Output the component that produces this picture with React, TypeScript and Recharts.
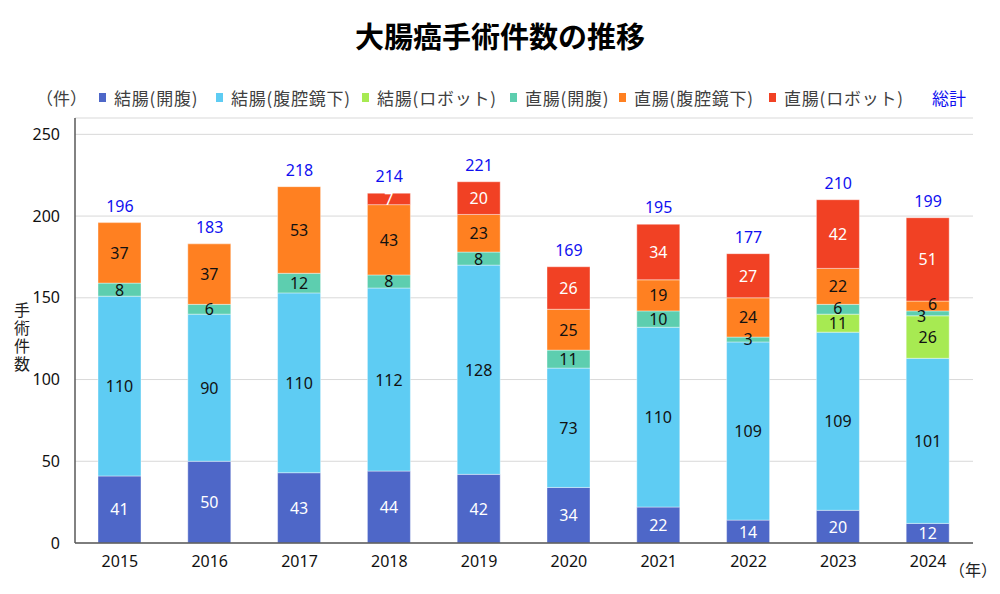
import { ComposedChart, Bar, Line, XAxis, YAxis, CartesianGrid, LabelList } from 'recharts';

const years = ['2015', '2016', '2017', '2018', '2019', '2020', '2021', '2022', '2023', '2024'];
const colonOpen = [41, 50, 43, 44, 42, 34, 22, 14, 20, 12];
const colonLap = [110, 90, 110, 112, 128, 73, 110, 109, 109, 101];
const colonRobot = [0, 0, 0, 0, 0, 0, 0, 0, 11, 26];
const rectumOpen = [8, 6, 12, 8, 8, 11, 10, 3, 6, 3];
const rectumLap = [37, 37, 53, 43, 23, 25, 19, 24, 22, 6];
const rectumRobot = [0, 0, 0, 7, 20, 26, 34, 27, 42, 51];
const yTicks = [0, 50, 100, 150, 200, 250];

const series = [
  { key: 'colonOpen', name: '結腸(開腹)', color: '#4E67C8', text: '#ffffff' },
  { key: 'colonLap', name: '結腸(腹腔鏡下)', color: '#5ECCF3', text: '#111111' },
  { key: 'colonRobot', name: '結腸(ロボット)', color: '#A7EA52', text: '#111111' },
  { key: 'rectumOpen', name: '直腸(開腹)', color: '#5DCEAF', text: '#111111' },
  { key: 'rectumLap', name: '直腸(腹腔鏡下)', color: '#FF8021', text: '#111111' },
  { key: 'rectumRobot', name: '直腸(ロボット)', color: '#F14124', text: '#ffffff' },
];

const data = years.map((year, i) => ({
  year,
  colonOpen: colonOpen[i],
  colonLap: colonLap[i],
  colonRobot: colonRobot[i],
  rectumOpen: rectumOpen[i],
  rectumLap: rectumLap[i],
  rectumRobot: rectumRobot[i],
  total:
    colonOpen[i] + colonLap[i] + colonRobot[i] + rectumOpen[i] + rectumLap[i] + rectumRobot[i],
}));

const numFont = "'Noto Sans', 'Noto Sans CJK JP', sans-serif";
const jpFont = "'Noto Sans CJK JP', sans-serif";

// legend marker left edges, like the original layout
const legendX = [99, 216, 362, 510, 619, 769];

// small nudges where thin segments would overlap
const nudge: Record<string, [number, number]> = {
  'rectumOpen-9': [-6, 3],
  'rectumLap-9': [5, -2],
  'rectumOpen-8': [0, -1],
  'colonRobot-8': [0, 3],
};

export default function App() {
  const segmentLabel = (key: string, color: string) => (props: any) => {
    const { x, y, width, height, value, index } = props;
    if (!value) return null;
    const [dx, dy] = nudge[`${key}-${index}`] ?? [0, 0];
    return (
      <text
        x={x + width / 2 + dx}
        y={y + height / 2 + dy}
        textAnchor="middle"
        dominantBaseline="central"
        fill={color}
        fontSize={16}
        fontFamily={numFont}
      >
        {value}
      </text>
    );
  };

  const totalLabel = (props: any) => {
    const { x, y, value } = props;
    return (
      <text
        x={x}
        y={y - 11}
        textAnchor="middle"
        fill="#1010F0"
        fontSize={16}
        fontFamily={numFont}
      >
        {value}
      </text>
    );
  };

  return (
    <div
      style={{
        position: 'absolute',
        left: 0,
        top: 0,
        width: 1000,
        height: 594,
        background: '#fff',
        fontFamily: jpFont,
      }}
    >
      <div
        style={{
          position: 'absolute',
          top: 14,
          width: 1000,
          textAlign: 'center',
          fontSize: 29,
          fontWeight: 700,
          color: '#000',
        }}
      >
        大腸癌手術件数の推移
      </div>

      {/* Legend */}
      <div style={{ position: 'absolute', top: 85, left: 0, fontSize: 17, color: '#404040' }}>
        <span style={{ position: 'absolute', left: 36, whiteSpace: 'nowrap' }}>（件）</span>
        {series.map((s, i) => (
          <span
            key={s.key}
            style={{
              position: 'absolute',
              left: legendX[i],
              display: 'flex',
              alignItems: 'center',
              whiteSpace: 'nowrap',
              letterSpacing: 0.8,
            }}
          >
            <span
              style={{ width: 7, height: 9, background: s.color, display: 'inline-block', marginRight: 8 }}
            />
            {s.name}
          </span>
        ))}
        <span style={{ position: 'absolute', left: 932, whiteSpace: 'nowrap', color: '#1010F0' }}>
          総計
        </span>
      </div>

      <div
        style={{
          position: 'absolute',
          left: 12,
          top: 302,
          writingMode: 'vertical-rl',
          fontSize: 16,
          letterSpacing: 2,
          lineHeight: '20px',
          color: '#222',
        }}
      >
        手術件数
      </div>
      <div style={{ position: 'absolute', left: 949, top: 557, fontSize: 16, color: '#222' }}>
        （年）
      </div>

      <ComposedChart
        width={1000}
        height={594}
        data={data}
        margin={{ top: 118, right: 27, bottom: 21, left: 0 }}
        barSize={43}
        style={{ position: 'absolute', left: 0, top: 0 }}
      >
        <CartesianGrid vertical={false} stroke="#d9d9d9" />
        <XAxis
          dataKey="year"
          height={30}
          tickLine={false}
          axisLine={{ stroke: '#595959', strokeWidth: 1.5 }}
          tick={{ fill: '#111', fontSize: 16, fontFamily: numFont }}
          tickMargin={7}
        />
        <YAxis
          width={75}
          domain={[0, 260]}
          ticks={yTicks}
          interval={0}
          tickLine={false}
          axisLine={{ stroke: '#595959', strokeWidth: 1.5 }}
          tick={{ fill: '#111', fontSize: 16, fontFamily: numFont }}
          tickMargin={9}
        />
        {series.map((s) => (
          <Bar
            key={s.key}
            dataKey={s.key}
            name={s.name}
            stackId="a"
            fill={s.color}
            stroke="#ffffff"
            strokeOpacity={0.4}
            strokeWidth={1}
            isAnimationActive={false}
          >
            <LabelList dataKey={s.key} content={segmentLabel(s.key, s.text)} />
          </Bar>
        ))}
        <Line
          dataKey="total"
          stroke="none"
          dot={false}
          activeDot={false}
          legendType="none"
          isAnimationActive={false}
        >
          <LabelList dataKey="total" content={totalLabel} />
        </Line>
      </ComposedChart>
    </div>
  );
}
